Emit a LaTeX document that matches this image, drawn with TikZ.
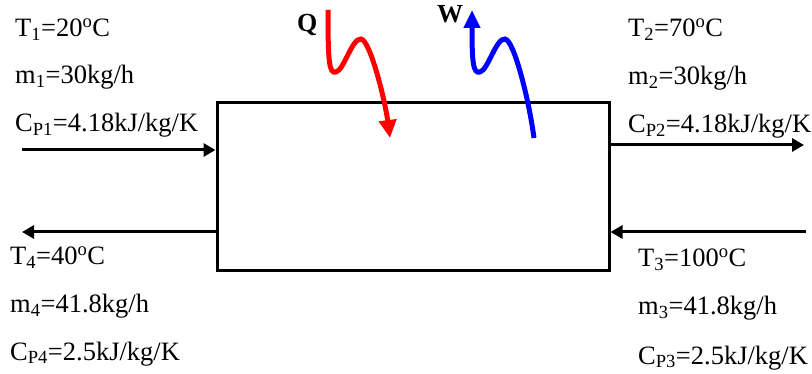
\documentclass[tikz,border=0pt]{standalone}
\usepackage{fontspec}
\setmainfont{Liberation Serif}
\usetikzlibrary{arrows.meta,positioning}

\tikzset{
  stream/.style={line width=3pt,-{Triangle[length=12pt,width=13pt]}},
  wavy/.style={line width=5pt},
  heat/.style={wavy,red,-{Triangle[length=18pt,width=17pt]}},
  work/.style={wavy,blue,{Triangle[length=18pt,width=16pt]}-},
  prop/.style={anchor=base west,inner sep=0pt,font=\fontsize{26.5}{30}\selectfont},
  lbl/.style={anchor=base west,inner sep=0pt,font=\fontsize{26}{30}\selectfont\bfseries},
}
\newcommand{\degC}{\textsuperscript{o}C}

\begin{document}
\begin{tikzpicture}[x=1pt,y=-1pt]
  \useasboundingbox (0,0) rectangle (812,374);
  % exchanger body
  \node[draw,line width=3pt,minimum width=392pt,minimum height=168pt,inner sep=0pt] (hx) at (413,187) {};

  % streams
  \coordinate (in1) at (22,150);
  \coordinate (out2) at (804,145);
  \coordinate (in3) at (806,232);
  \coordinate (out4) at (22,232);
  \draw[stream] (in1) -- (in1 -| hx.west);
  \draw[stream] (out2 -| hx.east) -- (out2);
  \draw[stream] (in3) -- (in3 -| hx.east);
  \draw[stream] (out4 -| hx.west) -- (out4);

  % stream 1
  \node[prop] (t1) at (15,37) {T\textsubscript{1}=20\degC};
  \node[prop] (m1) at (15,84) {m\textsubscript{1}=30kg/h};
  \node[prop] (c1) at (15,132) {C\textsubscript{P1}=4.18kJ/kg/K};
  % stream 2
  \node[prop] (t2) at (628,37) {T\textsubscript{2}=70\degC};
  \node[prop] (m2) at (628,85) {m\textsubscript{2}=30kg/h};
  \node[prop] (c2) at (628,133) {C\textsubscript{P2}=4.18kJ/kg/K};
  % stream 3
  \node[prop] (t3) at (638,267) {T\textsubscript{3}=100\degC};
  \node[prop] (m3) at (638,315) {m\textsubscript{3}=41.8kg/h};
  \node[prop] (c3) at (638,364) {C\textsubscript{P3}=2.5kJ/kg/K};
  % stream 4
  \node[prop] (t4) at (10,265) {T\textsubscript{4}=40\degC};
  \node[prop] (m4) at (10,313) {m\textsubscript{4}=41.8kg/h};
  \node[prop] (c4) at (10,360) {C\textsubscript{P4}=2.5kJ/kg/K};

  % heat and work
  \node[lbl] (q) at (297,32) {Q};
  \node[lbl] (w) at (437,23) {W};
  \coordinate (qtop) at (328,10);
  \coordinate (qtip) at (390,138);
  \coordinate (wtip) at (472,10);
  \coordinate (wbot) at (534,138);
  \draw[heat] (qtop) .. controls (328,62) and (329,74) .. (336,72)
    .. controls (344,70) and (352,38) .. (361,39)
    .. controls (370,40) and (385,100) .. (qtip);
  \draw[work] (wtip) .. controls (472,62) and (473,74) .. (480,72)
    .. controls (488,70) and (496,38) .. (505,39)
    .. controls (514,40) and (529,100) .. (wbot);
\end{tikzpicture}
\end{document}
